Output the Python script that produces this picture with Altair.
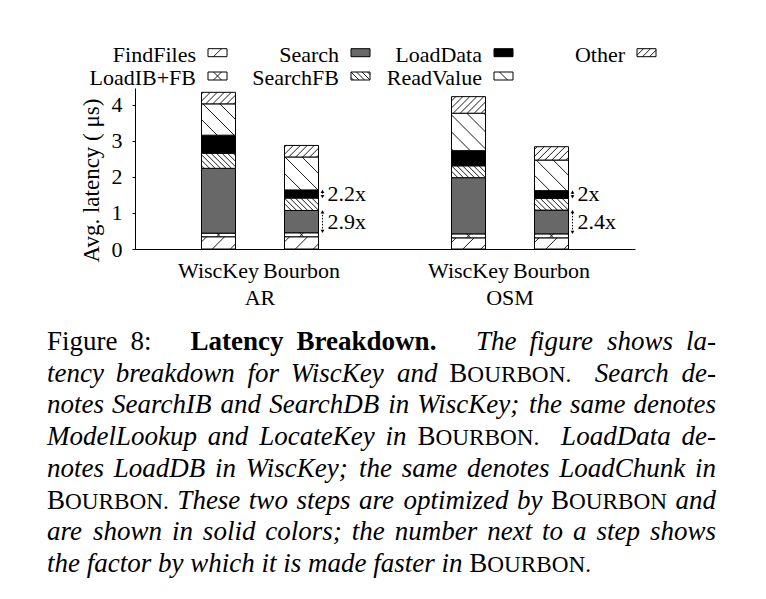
import re
import altair as alt
import numpy as np
import pandas as pd

# ---------------- data ----------------
datasets = ["AR", "OSM"]
systems = ["WiscKey", "Bourbon"]
steps = ["FindFiles", "LoadIB+FB", "Search", "SearchFB", "LoadData", "ReadValue", "Other"]
# per-step average latency (us), bottom to top
ar_wisckey = [0.34, 0.10, 1.80, 0.42, 0.50, 0.87, 0.32]
ar_bourbon = [0.34, 0.11, 0.62, 0.345, 0.225, 0.915, 0.32]
osm_wisckey = [0.31, 0.11, 1.56, 0.33, 0.42, 1.04, 0.46]
osm_bourbon = [0.31, 0.11, 0.66, 0.33, 0.21, 0.85, 0.37]
speedup_search = ["2.9x", "2.4x"]
speedup_loaddata = ["2.2x", "2x"]
y_ticks = [0, 1, 2, 3, 4]
y_title = "Avg. latency ( \u03bcs)"

caption_lines = [
    "~Figure ~8:   *Latency *Breakdown.   The figure shows la-",
    "tency breakdown for WiscKey and ^BOURBON.  Search de-",
    "notes SearchIB and SearchDB in WiscKey; the same denotes",
    "ModelLookup and LocateKey in ^BOURBON.  LoadData de-",
    "notes LoadDB in WiscKey; the same denotes LoadChunk in",
    "^BOURBON. These two steps are optimized by ^BOURBON and",
    "are shown in solid colors; the number next to a step shows",
    "the factor by which it is made faster in ^BOURBON.",
]

# ---------------- styles / layout ----------------
FONT = "Liberation Serif"
W, H = 500, 161
XMAX, YMAX = 2.0, 4.47
KX, KY = W / XMAX, H / YMAX
OFF = 0.166   # bar centre offset from group centre
HW = 0.068    # bar half width
fills = ["white", "white", "#686868", "white", "black", "white", "white"]
hatch = {"FindFiles": ("/", 18), "LoadIB+FB": ("x", 18), "SearchFB": ("\\", 5.5),
         "ReadValue": ("\\", 17), "Other": ("/", 7)}
OX, OY = 135, 88  # plot origin on page


def hatch_lines(w, h, kind, s):
    out = []
    if kind in ("/", "x"):
        c = (h - w) / 2.0
        for j in range(int(np.floor((-w - c) / s)) - 1, int(np.ceil((h - c) / s)) + 2):
            k = c + j * s
            xa, xb = max(0.0, -k), min(w, h - k)
            if xb - xa > 0.8:
                out.append((xa, xa + k, xb, xb + k))
    if kind in ("\\", "x"):
        c = (w + h) / 2.0
        for j in range(int(np.floor(-c / s)) - 1, int(np.ceil((w + h - c) / s)) + 2):
            k = c + j * s
            xa, xb = max(0.0, k - h), min(w, k)
            if xb - xa > 0.8:
                out.append((xa, k - xa, xb, k - xb))
    return out


bars = {("AR", "WiscKey"): ar_wisckey, ("AR", "Bourbon"): ar_bourbon,
        ("OSM", "WiscKey"): osm_wisckey, ("OSM", "Bourbon"): osm_bourbon}
seg_rows, hatch_rows, lab_rows, grp_rows, arrow_rows, sp_rows = [], [], [], [], [], []
for gi, ds in enumerate(datasets):
    grp_rows.append(dict(xc=gi + 0.5, t=ds))
    for si, sysname in enumerate(systems):
        vals = bars[(ds, sysname)]
        xc = gi + 0.5 + (si - 0.5) * 2 * OFF
        lab_rows.append(dict(xc=xc, t=sysname))
        cum = [0.0]
        for step, v in zip(steps, vals):
            y0, y1 = cum[-1], cum[-1] + v
            cum.append(y1)
            seg_rows.append(dict(step=step, x0=xc - HW, x1=xc + HW, y0=y0, y1=y1))
            if step in hatch:
                kind, s = hatch[step]
                for (xa, ya, xb, yb) in hatch_lines(2 * HW * KX, v * KY, kind, s):
                    hatch_rows.append(dict(xa=xc - HW + xa / KX, ya=y0 + ya / KY,
                                           xb=xc - HW + xb / KX, yb=y0 + yb / KY))
        if sysname == "Bourbon":
            xa = xc + HW + 4 / KX
            for (lo, hi, t) in [(cum[2], cum[3], speedup_search[gi]),
                                (cum[4], cum[5], speedup_loaddata[gi])]:
                arrow_rows.append(dict(x=xa, lo=lo + 0.04, hi=hi - 0.04))
                sp_rows.append(dict(x=xc + HW + 9 / KX, y=(lo + hi) / 2, t=t))

seg = pd.DataFrame(seg_rows)
hat = pd.DataFrame(hatch_rows)
arr = pd.DataFrame(arrow_rows)
spd = pd.DataFrame(sp_rows)
labs = pd.DataFrame(lab_rows)
grps = pd.DataFrame(grp_rows)

xs = alt.Scale(domain=[0, XMAX], nice=False, zero=False)
ys = alt.Scale(domain=[0, YMAX], nice=False, zero=False)
fill_scale = alt.Scale(domain=steps, range=fills)

bars_layer = alt.Chart(seg).mark_rect(stroke="black", strokeWidth=1).encode(
    x=alt.X("x0:Q", scale=xs, axis=alt.Axis(labels=False, ticks=False, title=None, grid=False,
                                            domainColor="black", domainWidth=1)),
    x2="x1:Q",
    y=alt.Y("y0:Q", scale=ys, axis=alt.Axis(values=y_ticks, title=y_title, grid=False,
                                            domainColor="black", tickColor="black", tickSize=3,
                                            labelPadding=10, labelFont=FONT, labelFontSize=22,
                                            labelColor="black", titleFont=FONT, titleFontSize=23,
                                            titleFontWeight="normal", titleColor="black",
                                            titleX=-37, titleY=92, titleBaseline="alphabetic")),
    y2="y1:Q",
    fill=alt.Fill("step:N", scale=fill_scale, legend=None),
)
hatch_layer = alt.Chart(hat).mark_rule(color="black", strokeWidth=0.9).encode(
    x=alt.X("xa:Q", scale=xs, axis=None), x2="xb:Q",
    y=alt.Y("ya:Q", scale=ys, axis=None), y2="yb:Q")
arrow_layer = alt.Chart(arr).mark_rule(color="black", strokeWidth=1, strokeDash=[1.5, 1.5]).encode(
    x=alt.X("x:Q", scale=xs, axis=None),
    y=alt.Y("lo:Q", scale=ys, axis=None), y2="hi:Q")
head_up = alt.Chart(arr).mark_point(shape="triangle-up", filled=True, color="black", size=14, opacity=1).encode(
    x=alt.X("x:Q", scale=xs, axis=None), y=alt.Y("hi:Q", scale=ys, axis=None))
head_dn = alt.Chart(arr).mark_point(shape="triangle-down", filled=True, color="black", size=14, opacity=1).encode(
    x=alt.X("x:Q", scale=xs, axis=None), y=alt.Y("lo:Q", scale=ys, axis=None))
sp_layer = alt.Chart(spd).mark_text(font=FONT, fontSize=22, align="left", baseline="middle", color="black").encode(
    x=alt.X("x:Q", scale=xs, axis=None), y=alt.Y("y:Q", scale=ys, axis=None), text="t:N")
lab_layer = alt.Chart(labs).mark_text(font=FONT, fontSize=22, align="center", baseline="alphabetic", color="black").encode(
    x=alt.X("xc:Q", scale=xs, axis=None), y=alt.value(190), text="t:N")
grp_layer = alt.Chart(grps).mark_text(font=FONT, fontSize=22, align="center", baseline="alphabetic", color="black").encode(
    x=alt.X("xc:Q", scale=xs, axis=None), y=alt.value(217), text="t:N")

# ---------------- legend (pixel space) ----------------
leg_rows, leg_hatch, leg_text = [], [], []
for i, step in enumerate(steps):
    col, row = i // 2, i % 2
    base = 61.7 + 23.3 * row
    bx, bw, btop, bbot = 208 + 143 * col, 19, base - 13, base - 5
    leg_rows.append(dict(step=step, px=bx - OX, px2=bx + bw - OX, py=btop - OY, py2=bbot - OY))
    leg_text.append(dict(px=196 + 143 * col - OX, py=base - OY, t=step))
    if step in hatch:
        kind, s = hatch[step]
        for (xa, ya, xb, yb) in hatch_lines(bw, bbot - btop, kind, s):
            leg_hatch.append(dict(px=bx + xa - OX, py=bbot - ya - OY, px2=bx + xb - OX, py2=bbot - yb - OY))


def PX(f):
    return alt.X(f, scale=None, axis=None)


def PY(f):
    return alt.Y(f, scale=None, axis=None)


leg_box = alt.Chart(pd.DataFrame(leg_rows)).mark_rect(stroke="black", strokeWidth=1).encode(
    x=PX("px:Q"), x2="px2:Q", y=PY("py:Q"), y2="py2:Q",
    fill=alt.Fill("step:N", scale=fill_scale, legend=None))
leg_h = alt.Chart(pd.DataFrame(leg_hatch)).mark_rule(color="black", strokeWidth=0.9).encode(
    x=PX("px:Q"), x2="px2:Q", y=PY("py:Q"), y2="py2:Q")
leg_t = alt.Chart(pd.DataFrame(leg_text)).mark_text(font=FONT, fontSize=22, align="right", baseline="alphabetic", color="black").encode(
    x=PX("px:Q"), y=PY("py:Q"), text="t:N")

# ---------------- caption (pixel space) ----------------
def _tab(caps, lows, extra):
    d = dict(zip("ABCDEFGHIJKLMNOPQRSTUVWXYZ", caps))
    d.update(zip("abcdefghijklmnopqrstuvwxyz", lows))
    d.update({c: 500 for c in "0123456789"})
    d.update(extra)
    return d


ROMAN = _tab([722, 667, 667, 722, 611, 556, 722, 722, 333, 389, 722, 611, 889, 722, 722, 556, 722, 667, 556, 611, 722, 722, 944, 722, 722, 611],
             [444, 500, 444, 500, 444, 333, 500, 500, 278, 278, 500, 278, 778, 500, 500, 500, 500, 333, 389, 278, 500, 500, 722, 500, 500, 444],
             {" ": 250, ".": 250, ",": 250, ":": 278, ";": 278, "-": 333})
ITALIC = _tab([611, 611, 667, 722, 611, 611, 722, 722, 333, 444, 667, 556, 833, 667, 722, 611, 722, 611, 500, 556, 722, 611, 833, 611, 556, 556],
              [500, 500, 444, 500, 444, 278, 500, 500, 278, 278, 444, 278, 722, 500, 500, 500, 500, 389, 389, 278, 500, 444, 667, 444, 444, 389],
              {" ": 250, ".": 250, ",": 250, ":": 333, ";": 333, "-": 333})
BOLD = _tab([722, 667, 722, 722, 667, 611, 778, 778, 389, 500, 778, 667, 944, 722, 778, 611, 778, 722, 556, 667, 722, 722, 1000, 722, 722, 667],
            [500, 556, 444, 556, 444, 333, 500, 556, 278, 333, 556, 278, 833, 556, 500, 556, 556, 444, 389, 333, 556, 500, 722, 500, 500, 444],
            {" ": 250, ".": 250, ",": 250, ":": 333, ";": 333, "-": 333})
FC = 27
SCF = 0.86    # small-caps glyph size relative to caption size
LEFT, RIGHT = 47, 716
BASE0, LEAD = 350, 31.7


def wid(word, style):
    if style == "SC":
        return (ROMAN[word[0]] + SCF * sum(ROMAN.get(c, 500) for c in word[1:])) / 1000 * FC
    tab = {"R": ROMAN, "I": ITALIC, "B": BOLD}[style]
    return sum(tab.get(c, 500) for c in word) / 1000 * FC


cap = {"R": [], "I": [], "B": [], "SC": []}
for li, line in enumerate(caption_lines):
    parts = re.split(r"( +)", line)
    words, weights = [], []
    for p in parts:
        if p.startswith(" "):
            weights.append(len(p))
        elif p:
            st = {"~": "R", "*": "B", "^": "SC"}.get(p[0], "I")
            words.append((p[1:] if st != "I" else p, st))
    ws = [wid(w, s) for w, s in words]
    if li < len(caption_lines) - 1:
        unit = max((RIGHT - LEFT - sum(ws)) / sum(weights), 0.15 * FC)
    else:
        unit = 0.25 * FC
    x = LEFT
    y = BASE0 + LEAD * li
    for k, ((w, s), wd) in enumerate(zip(words, ws)):
        if s == "SC":
            cap["R"].append(dict(px=x - OX, py=y - OY, t=w[0]))
            cap["SC"].append(dict(px=x + ROMAN[w[0]] / 1000 * FC - OX, py=y - OY, t=w[1:]))
        else:
            cap[s].append(dict(px=x - OX, py=y - OY, t=w))
        x += wd
        if k < len(weights):
            x += unit * weights[k]

cap_layers = []
for st, kw in [("R", dict(fontSize=FC)), ("I", dict(fontSize=FC, fontStyle="italic")),
               ("B", dict(fontSize=FC, fontWeight="bold")), ("SC", dict(fontSize=FC * SCF))]:
    cap_layers.append(alt.Chart(pd.DataFrame(cap[st])).mark_text(
        font=FONT, align="left", baseline="alphabetic", color="black", **kw).encode(
        x=PX("px:Q"), y=PY("py:Q"), text="t:N"))

chart = alt.layer(bars_layer, hatch_layer, arrow_layer, head_up, head_dn, sp_layer, lab_layer, grp_layer,
                  leg_box, leg_h, leg_t, *cap_layers).resolve_scale(
    x="independent", y="independent").properties(
    width=W, height=H, autosize=alt.AutoSizeParams(type="none"),
    padding={"left": 127, "top": 80, "right": 123, "bottom": 342},
    background="white").configure_view(stroke=None)

chart.save("out.html", embed_options={"renderer": "svg", "actions": False})
